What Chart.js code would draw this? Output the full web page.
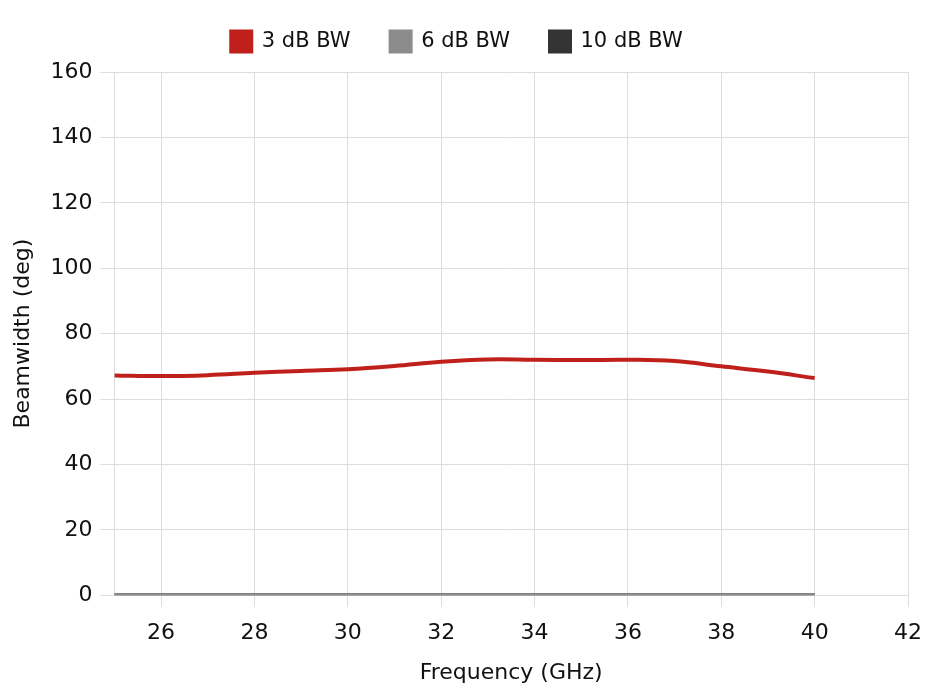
<!DOCTYPE html>
<html>
<head>
<meta charset="utf-8">
<script src="https://cdn.jsdelivr.net/npm/chart.js@4"></script>
<style>
  html, body { margin: 0; padding: 0; background: #fff; }
  #wrap { width: 930px; height: 696px; }
</style>
</head>
<body>
<div id="wrap"><canvas id="bwChart" width="930" height="696"></canvas></div>
<script>
// --- Datos ---
const freqGHz = [25, 26, 27, 28, 29, 30, 31, 32, 33, 34, 35, 36, 37, 38, 39, 40];
const bw3dB = [67.2, 67.0, 67.3, 68.0, 68.6, 69.1, 70.1, 71.4, 72.1, 72.0, 71.9, 72.0, 71.6, 70.0, 68.4, 66.4];
const bw6dB = [0, 0, 0, 0, 0, 0, 0, 0, 0, 0, 0, 0, 0, 0, 0, 0];
const bw10dB = [0, 0, 0, 0, 0, 0, 0, 0, 0, 0, 0, 0, 0, 0, 0, 0];
const xTicks = [26, 28, 30, 32, 34, 36, 38, 40, 42];

const FONT = 'DejaVu Sans';
const SIZE = 22;
const toPoints = (ys) => ys.map((y, i) => ({ x: freqGHz[i], y }));

// espacio extra bajo la leyenda
const legendGap = {
  id: 'legendGap',
  beforeInit(chart) {
    const origFit = chart.legend.fit;
    chart.legend.fit = function () {
      origFit.bind(chart.legend)();
      this.height += 10;
    };
  }
};

new Chart(document.getElementById('bwChart'), {
  type: 'line',
  data: {
    datasets: [
      { label: '3 dB BW', data: toPoints(bw3dB), borderColor: '#c0201b', backgroundColor: '#c0201b', borderWidth: 4, pointRadius: 0, tension: 0.4 },
      { label: '6 dB BW', data: toPoints(bw6dB), borderColor: '#8c8c8c', backgroundColor: '#8c8c8c', borderWidth: 4, pointRadius: 0, tension: 0.4 },
      { label: '10 dB BW', data: toPoints(bw10dB), borderColor: '#333333', backgroundColor: '#333333', borderWidth: 4, pointRadius: 0, tension: 0.4 }
    ]
  },
  options: {
    responsive: false,
    animation: false,
    layout: { padding: { left: 6, right: 22, top: -9, bottom: 6 } },
    plugins: {
      legend: {
        labels: { boxWidth: 20, boxHeight: 20, padding: 40, color: '#111', font: { family: FONT, size: 21 } }
      },
      tooltip: { enabled: false }
    },
    scales: {
      x: {
        type: 'linear',
        min: 25,
        max: 42,
        afterBuildTicks: (axis) => { axis.ticks = xTicks.map(v => ({ value: v })); },
        afterFit: (axis) => { axis.paddingRight = 0; },
        grid: { color: '#dddddd', tickLength: 12 },
        border: { color: '#dddddd' },
        ticks: { color: '#111', font: { family: FONT, size: SIZE }, padding: 13 },
        title: { display: true, text: 'Frequency (GHz)', color: '#111', font: { family: FONT, size: SIZE }, padding: { top: 0 } }
      },
      y: {
        min: 0,
        max: 160,
        ticks: { stepSize: 20, color: '#111', font: { family: FONT, size: SIZE }, padding: 8 },
        grid: { color: '#dddddd', tickLength: 14 },
        border: { color: '#dddddd' },
        title: { display: true, text: 'Beamwidth (deg)', color: '#111', font: { family: FONT, size: SIZE }, padding: { bottom: 6 } }
      }
    }
  },
  plugins: [legendGap]
});
</script>
</body>
</html>
